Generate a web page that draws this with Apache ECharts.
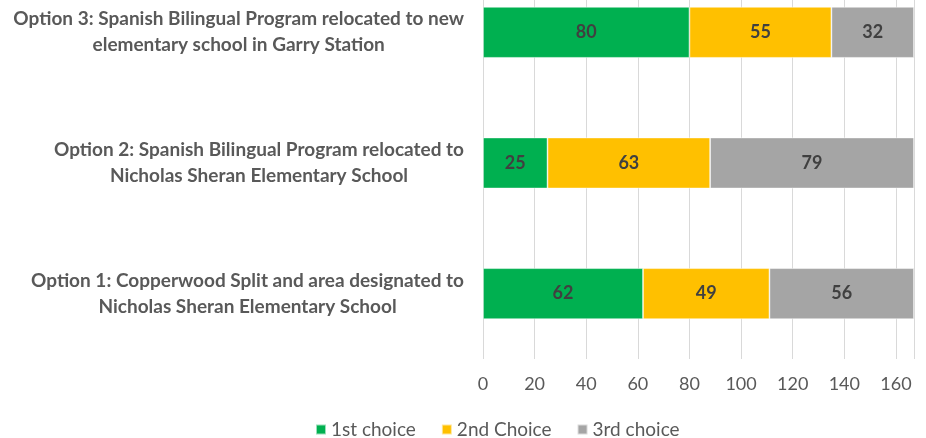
<!DOCTYPE html>
<html>
<head>
<meta charset="utf-8">
<script src="https://cdn.jsdelivr.net/npm/echarts@6/dist/echarts.min.js"></script>
<style>
  html, body { margin: 0; padding: 0; background: #fff; }
  #chart { width: 926px; height: 438px; }
</style>
</head>
<body>
<div id="chart"></div>
<script>
// bottom to top, as on the chart
const categories = [
  'Option 1: Copperwood Split and area designated to\nNicholas Sheran Elementary School',
  'Option 2: Spanish Bilingual Program relocated to\nNicholas Sheran Elementary School',
  'Option 3: Spanish Bilingual Program relocated to new\nelementary school in Garry Station'
]
const firstChoice = [62, 25, 80]
const secondChoice = [49, 63, 55]
const thirdChoice = [56, 79, 32]

const seriesNames = ['1st choice', '2nd Choice', '3rd choice']
const colors = ['#00B050', '#FFC000', '#A5A5A5']
const font = 'Lato'

function bar(name, data, color) {
  return {
    name: name,
    type: 'bar',
    stack: 'total',
    data: data,
    barWidth: 51,
    itemStyle: { color: color, borderColor: 'rgba(255,255,255,0.6)', borderWidth: 0.8 },
    label: {
      show: true,
      position: 'inside',
      color: '#404040',
      fontFamily: font,
      fontWeight: 'bold',
      fontSize: 18
    }
  }
}

const chart = echarts.init(document.getElementById('chart'))
chart.setOption({
  animation: false,
  color: colors,
  grid: { left: 483, right: 12, top: -33, bottom: 79, containLabel: false, outerBoundsMode: 'none' },
  legend: {
    top: 415,
    left: 310,
    itemWidth: 10,
    itemHeight: 10,
    itemGap: 25,
    icon: 'rect',
    textStyle: { color: '#595959', fontFamily: font, fontSize: 19 },
    data: seriesNames
  },
  xAxis: {
    type: 'value',
    min: 0,
    max: 167,
    interval: 20,
    axisLine: { show: false },
    axisTick: { show: false },
    splitLine: { lineStyle: { color: '#D9D9D9', width: 1 } },
    axisLabel: {
      color: '#595959',
      fontFamily: font,
      fontSize: 18,
      margin: 16,
      showMaxLabel: false,
      formatter: function (v) { return v % 20 === 0 ? v : '' }
    }
  },
  yAxis: {
    type: 'category',
    data: categories,
    axisLine: { show: false },
    axisTick: { show: false },
    axisLabel: {
      margin: 19,
      align: 'right',
      formatter: function (v) {
        return v.split('\n').map(function (s) { return '{c|' + s + '}' }).join('\n')
      },
      rich: {
        c: {
          align: 'center',
          color: '#595959',
          fontFamily: font,
          fontWeight: 'bold',
          fontSize: 19,
          lineHeight: 26
        }
      }
    }
  },
  series: [
    bar(seriesNames[0], firstChoice, colors[0]),
    bar(seriesNames[1], secondChoice, colors[1]),
    bar(seriesNames[2], thirdChoice, colors[2])
  ]
})
</script>
</body>
</html>
